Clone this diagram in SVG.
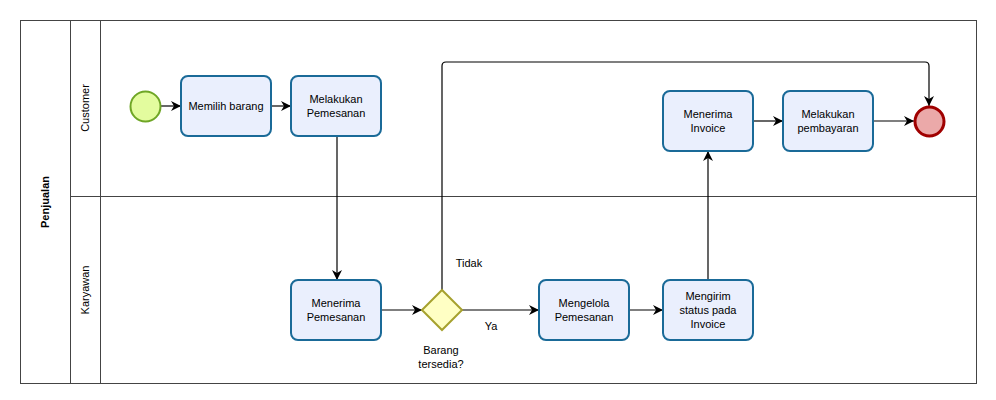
<svg xmlns="http://www.w3.org/2000/svg" width="996" height="400" viewBox="0 0 996 400">
<style>
.lane{fill:none;stroke:#444;stroke-width:1}
.task{fill:#EAEFFD;stroke:#1A6A98;stroke-width:2}
.t{font-family:"Liberation Sans",Arial,sans-serif;font-size:11px;fill:#000;text-anchor:middle}
.conn{fill:none;stroke:#000;stroke-width:1.2}
</style>
<defs>
<marker id="arr" viewBox="0 0 10 10" refX="10" refY="5" markerWidth="10" markerHeight="10" markerUnits="userSpaceOnUse" orient="auto">
<path d="M0,0 L10,5 L0,10 L3,5 Z" fill="#000"/>
</marker>
</defs>
<rect width="996" height="400" fill="#fff"/>
<g id="pool">
<rect class="lane" x="20.5" y="20.5" width="956" height="363"/>
<line class="lane" x1="70.5" y1="20.5" x2="70.5" y2="383.5"/>
<line class="lane" x1="100.5" y1="20.5" x2="100.5" y2="383.5"/>
<line class="lane" x1="70.5" y1="196.5" x2="976.5" y2="196.5"/>
<text class="t" font-weight="bold" transform="translate(49,202) rotate(-90)">Penjualan</text>
<text class="t" transform="translate(89,108) rotate(-90)">Customer</text>
<text class="t" transform="translate(89,290) rotate(-90)">Karyawan</text>
</g>
<g id="connectors">
<line class="conn" x1="161" y1="106" x2="181" y2="106" marker-end="url(#arr)"/>
<line class="conn" x1="271" y1="106" x2="291" y2="106" marker-end="url(#arr)"/>
<line class="conn" x1="337" y1="136" x2="337" y2="280" marker-end="url(#arr)"/>
<line class="conn" x1="381" y1="310" x2="422" y2="310" marker-end="url(#arr)"/>
<line class="conn" x1="462" y1="310" x2="539" y2="310" marker-end="url(#arr)"/>
<line class="conn" x1="629" y1="310" x2="663" y2="310" marker-end="url(#arr)"/>
<line class="conn" x1="708" y1="280" x2="708" y2="151" marker-end="url(#arr)"/>
<line class="conn" x1="753" y1="121" x2="783" y2="121" marker-end="url(#arr)"/>
<line class="conn" x1="873" y1="121" x2="914" y2="121" marker-end="url(#arr)"/>
<path class="conn" d="M442,290 L442,66 Q442,62 446,62 L925,62 Q929,62 929,66 L929,106" marker-end="url(#arr)"/>
<text class="t" x="469" y="267">Tidak</text>
<text class="t" x="491" y="330">Ya</text>
</g>
<g id="start">
<circle cx="145.5" cy="106.5" r="15" fill="#E3FC9E" stroke="#6FA626" stroke-width="2"/>
</g>
<g id="task-memilih">
<rect class="task" x="181" y="76" width="90" height="60" rx="7"/>
<text class="t" x="226" y="110">Memilih barang</text>
</g>
<g id="task-melakukan">
<rect class="task" x="291" y="76" width="90" height="60" rx="7"/>
<text class="t" x="336" y="103">Melakukan</text>
<text class="t" x="336" y="117">Pemesanan</text>
</g>
<g id="task-menerima-pemesanan">
<rect class="task" x="291" y="280" width="90" height="60" rx="7"/>
<text class="t" x="336" y="307">Menerima</text>
<text class="t" x="336" y="321">Pemesanan</text>
</g>
<g id="gateway">
<polygon points="442,290 462,310 442,330 422,310" fill="#FFFFC4" stroke="#A6A12E" stroke-width="2"/>
<text class="t" x="441" y="354">Barang</text>
<text class="t" x="441" y="368">tersedia?</text>
</g>
<g id="task-mengelola">
<rect class="task" x="539" y="280" width="90" height="60" rx="7"/>
<text class="t" x="584" y="307">Mengelola</text>
<text class="t" x="584" y="321">Pemesanan</text>
</g>
<g id="task-mengirim">
<rect class="task" x="663" y="280" width="90" height="60" rx="7"/>
<text class="t" x="708" y="300">Mengirim</text>
<text class="t" x="708" y="314">status pada</text>
<text class="t" x="708" y="328">Invoice</text>
</g>
<g id="task-menerima-invoice">
<rect class="task" x="663" y="91" width="90" height="60" rx="7"/>
<text class="t" x="708" y="118">Menerima</text>
<text class="t" x="708" y="132">Invoice</text>
</g>
<g id="task-pembayaran">
<rect class="task" x="783" y="91" width="90" height="60" rx="7"/>
<text class="t" x="828" y="118">Melakukan</text>
<text class="t" x="828" y="132">pembayaran</text>
</g>
<g id="end">
<circle cx="929.5" cy="121.5" r="14.5" fill="#EBA9A9" stroke="#A00000" stroke-width="3"/>
</g>
</svg>
